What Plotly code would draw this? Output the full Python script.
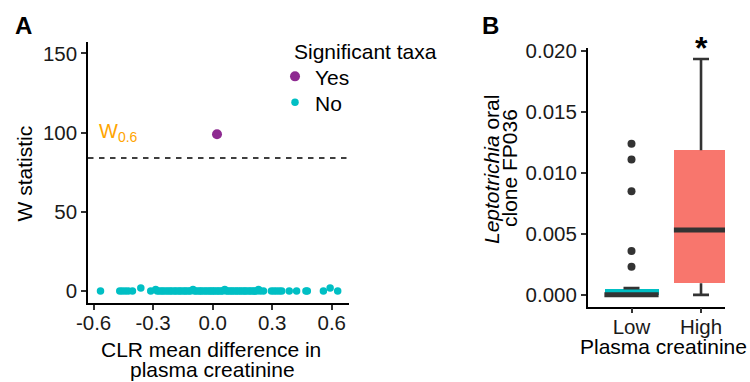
import plotly.graph_objects as go

# ---------------- Data ----------------
# Panel A: ANCOM volcano-like plot
sig_x = [0.022]
sig_w = [99]

nonsig_x = [-0.565, -0.468, -0.455, -0.44, -0.425, -0.404, -0.362, -0.312, -0.287, -0.279,
            -0.268, -0.257, -0.248, -0.236, -0.225, -0.214, -0.205, -0.192, -0.184, -0.171,
            -0.163, -0.152, -0.141, -0.133, -0.121, -0.112, -0.099, -0.091, -0.082, -0.07,
            -0.061, -0.053, -0.041, -0.032, -0.021, -0.012, -0.004, 0.005, 0.013, 0.024,
            0.031, 0.042, 0.05, 0.061, 0.069, 0.078, 0.088, 0.097, 0.106, 0.117,
            0.125, 0.136, 0.144, 0.155, 0.163, 0.172, 0.184, 0.192, 0.203, 0.211,
            0.222, 0.231, 0.24, 0.256, 0.296, 0.309, 0.322, 0.336, 0.348, 0.386,
            0.423, 0.47, 0.477, 0.558, 0.592, 0.63]
nonsig_w = [0, 0, 0, 0, 0, 0, 2, 0, 1, 0,
            0, 0, 0, 0, 0, 0, 0, 0, 0, 0,
            0, 0, 0, 0, 0, 0, 1, 0, 0, 0,
            0, 0, 0, 0, 0, 0, 0, 0, 0, 0,
            0, 0, 0, 1, 0, 0, 0, 0, 0, 0,
            0, 0, 0, 0, 0, 0, 0, 0, 0, 0,
            0, 1, 0, 0, 0, 0, 0, 0, 0, 0,
            0, 0, 0, 0, 2, 0]
w_cutoff = 84

a_xticks = [-0.6, -0.3, 0.0, 0.3, 0.6]
a_xticktext = ["-0.6", "-0.3", "0.0", "0.3", "0.6"]
a_yticks = [0, 50, 100, 150]

# Panel B: box plot summary statistics
groups = ["Low", "High"]
group_pos = [0, 1]
q1 = [0.0, 0.00095]
median = [0.0, 0.00533]
q3 = [0.00048, 0.01187]
lower_whisker = [0.0, 0.0]
upper_whisker = [0.00055, 0.01935]
low_outliers = [0.0124, 0.0111, 0.0085, 0.0036, 0.0023]
b_yticks = [0.0, 0.005, 0.010, 0.015, 0.020]
b_yticktext = ["0.000", "0.005", "0.010", "0.015", "0.020"]

# ---------------- Style ----------------
FONT = "Liberation Sans, Arial, sans-serif"
TEAL = "#00BFC4"
SALMON = "#F8766D"
PURPLE = "#8E2A91"
ORANGE = "#FFA500"
DARK = "#333333"
W, H = 750, 382

def px_x(px):
    return px / W

def px_y(py):
    return 1 - py / H

fig = go.Figure()

# Panel A traces
fig.add_trace(go.Scatter(x=sig_x, y=sig_w, mode="markers", name="Yes", legend="legend",
                         marker=dict(color=PURPLE, size=10), xaxis="x", yaxis="y"))
fig.add_trace(go.Scatter(x=nonsig_x, y=nonsig_w, mode="markers", name="No", legend="legend2",
                         marker=dict(color=TEAL, size=7.5), xaxis="x", yaxis="y"))

# Panel B traces
box_w = 0.78
cap_w = 0.23
box_colors = [TEAL, SALMON]

# whiskers
wx, wy = [], []
for p, a, b, lo, hi in zip(group_pos, q1, q3, lower_whisker, upper_whisker):
    wx += [p, p, None, p, p, None, p - cap_w / 2, p + cap_w / 2, None, p - cap_w / 2, p + cap_w / 2, None]
    wy += [b, hi, None, a, lo, None, hi, hi, None, lo, lo, None]
fig.add_trace(go.Scatter(x=wx, y=wy, mode="lines", line=dict(color=DARK, width=2.6),
                         showlegend=False, xaxis="x2", yaxis="y2", hoverinfo="skip"))

# boxes
fig.add_trace(go.Bar(x=group_pos, base=q1, y=[b - a for a, b in zip(q1, q3)], width=box_w,
                     marker=dict(color=box_colors, line=dict(width=0)),
                     showlegend=False, xaxis="x2", yaxis="y2"))

# medians
mx, my = [], []
for p, m in zip(group_pos, median):
    mx += [p - box_w / 2, p + box_w / 2, None]
    my += [m, m, None]
fig.add_trace(go.Scatter(x=mx, y=my, mode="lines", line=dict(color=DARK, width=5),
                         showlegend=False, xaxis="x2", yaxis="y2", cliponaxis=False))

# outliers
fig.add_trace(go.Scatter(x=[group_pos[0]] * len(low_outliers), y=low_outliers, mode="markers",
                         marker=dict(color=DARK, size=8), showlegend=False,
                         xaxis="x2", yaxis="y2"))

# threshold line
fig.add_shape(type="line", xref="x domain", yref="y", x0=0, x1=1, y0=w_cutoff, y1=w_cutoff,
              line=dict(color="black", width=1.6, dash="5.5px,5.5px"))

axis_common = dict(showgrid=False, zeroline=False, showline=True, linecolor="black",
                   linewidth=1.5, ticks="outside", ticklen=5, tickwidth=1.5, automargin=False,
                   tickcolor=DARK, tickfont=dict(size=20.5, color="#1a1a1a", family=FONT))

legend_common = dict(xanchor="left", yanchor="middle",
                     font=dict(size=21, family=FONT, color="black"),
                     bgcolor="rgba(0,0,0,0)", itemsizing="trace")

fig.update_layout(
    width=W, height=H,
    margin=dict(l=0, r=0, t=0, b=0, autoexpand=False),
    paper_bgcolor="white", plot_bgcolor="white",
    font=dict(family=FONT, color="black"),
    xaxis=dict(domain=[px_x(88), px_x(349)], range=[-0.628, 0.687],
               tickvals=a_xticks, ticktext=a_xticktext, anchor="y",
               ticklabelstandoff=-4, **axis_common),
    yaxis=dict(domain=[px_y(303), px_y(41.5)], range=[-7.5, 157.5],
               tickvals=a_yticks, anchor="x", **axis_common),
    xaxis2=dict(domain=[px_x(587.7), px_x(725)], range=[-0.63, 1.345],
                tickvals=group_pos, ticktext=groups, anchor="y2",
                ticklabelstandoff=-4, **axis_common),
    yaxis2=dict(domain=[px_y(306.7), px_y(48)], range=[-0.00097, 0.02025],
                tickvals=b_yticks, ticktext=b_yticktext, anchor="x2", **axis_common),
    legend=dict(x=px_x(275), y=px_y(76.7), **legend_common),
    legend2=dict(x=px_x(275), y=px_y(102.7), **legend_common),
    bargap=0,
)

ann = []
def add_text(text, x, y, size=21, angle=0, color="black", xanchor="center", yanchor="middle", xref="paper", yref="paper"):
    ann.append(dict(text=text, x=x, y=y, xref=xref, yref=yref, showarrow=False,
                    textangle=angle, xanchor=xanchor, yanchor=yanchor,
                    font=dict(size=size, color=color, family=FONT)))

add_text("<b>A</b>", px_x(23), px_y(25), size=24)
add_text("<b>B</b>", px_x(490), px_y(25), size=24)
add_text("W statistic", px_x(24), px_y(173.5), angle=-90)
add_text("CLR mean difference in", px_x(211.5), px_y(349))
add_text("plasma creatinine", px_x(212), px_y(369.5))
add_text("Significant taxa", px_x(291.5), px_y(51.5), xanchor="left")
add_text("<i>Leptotrichia</i> oral", px_x(491), px_y(169), angle=-90)
add_text("clone FP036", px_x(509), px_y(168), angle=-90)
add_text("Plasma creatinine", px_x(663.3), px_y(346))
add_text("W<sub>0.6</sub>", -0.585, 100, size=20, color=ORANGE, xanchor="left", xref="x", yref="y")
add_text("<b>*</b>", px_x(701), px_y(48), size=32)
fig.update_layout(annotations=ann)

fig.write_html("out.html", config={"displayModeBar": False},
               post_script="document.body.style.margin='0';document.body.style.overflow='hidden';")
